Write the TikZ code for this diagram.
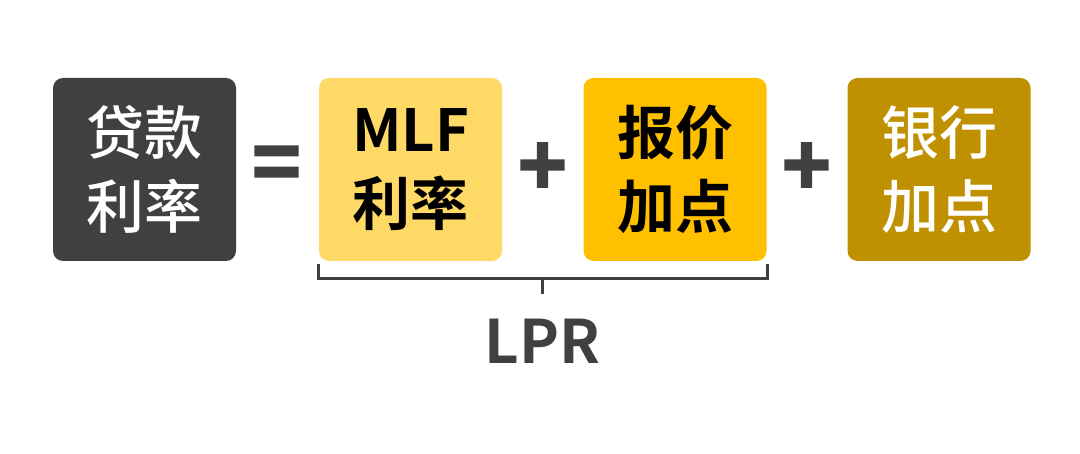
\documentclass[tikz,border=0pt]{standalone}
\usepackage{fontspec}
\setmainfont{Noto Sans CJK SC}[BoldFont={Noto Sans CJK SC Bold}]
\newfontfamily\medfont{Noto Sans CJK SC Medium}
\newfontfamily\opfont{Noto Sans CJK SC Bold}[FakeBold=3]
\definecolor{darkbox}{HTML}{404040}
\definecolor{lightyellow}{HTML}{FFD966}
\definecolor{gold}{HTML}{FFC000}
\definecolor{darkgold}{HTML}{BF9000}
\tikzset{
  termbox/.style={rounded corners=10pt, minimum width=183pt, minimum height=183pt,
    inner sep=0pt, align=center, font=\bfseries\fontsize{58}{74}\selectfont},
  whiteterm/.style={termbox, text=white, font=\medfont\fontsize{58}{74}\selectfont},
  blackterm/.style={termbox, text=black},
  opsign/.style={text=darkbox, inner sep=0pt, font=\opfont\fontsize{82}{82}\selectfont},
  bracketline/.style={draw=darkbox, line width=3pt},
}
\begin{document}
\begin{tikzpicture}[x=1pt,y=-1pt]
\useasboundingbox (0,0) rectangle (1080,454);
\node[whiteterm, fill=darkbox] (loan) at (144.5,169.5) {贷款\\利率};
\node[opsign] (eq) at (276.5,169.5) {=};
\node[blackterm, fill=lightyellow] (mlf) at (410.5,169.5) {MLF\\利率};
\node[opsign] (plusa) at (542.5,169.5) {+};
\node[blackterm, fill=gold] (quote) at (675,169.5) {报价\\加点};
\node[opsign] (plusb) at (806.5,169.5) {+};
\node[whiteterm, fill=darkgold] (bank) at (939,169.5) {银行\\加点};
\coordinate (bl) at (318,264);
\coordinate (br) at (767,264);
\coordinate (bm) at (542.5,279);
\coordinate (bt) at (542.5,294);
\draw[bracketline] (bl) |- (bm) -| (br);
\draw[bracketline] (bm) -- (bt);
\node[text=darkbox, font=\bfseries\fontsize{60}{60}\selectfont, inner sep=0pt] (lpr) at (542.5,341) {LPR};
\end{tikzpicture}
\end{document}
